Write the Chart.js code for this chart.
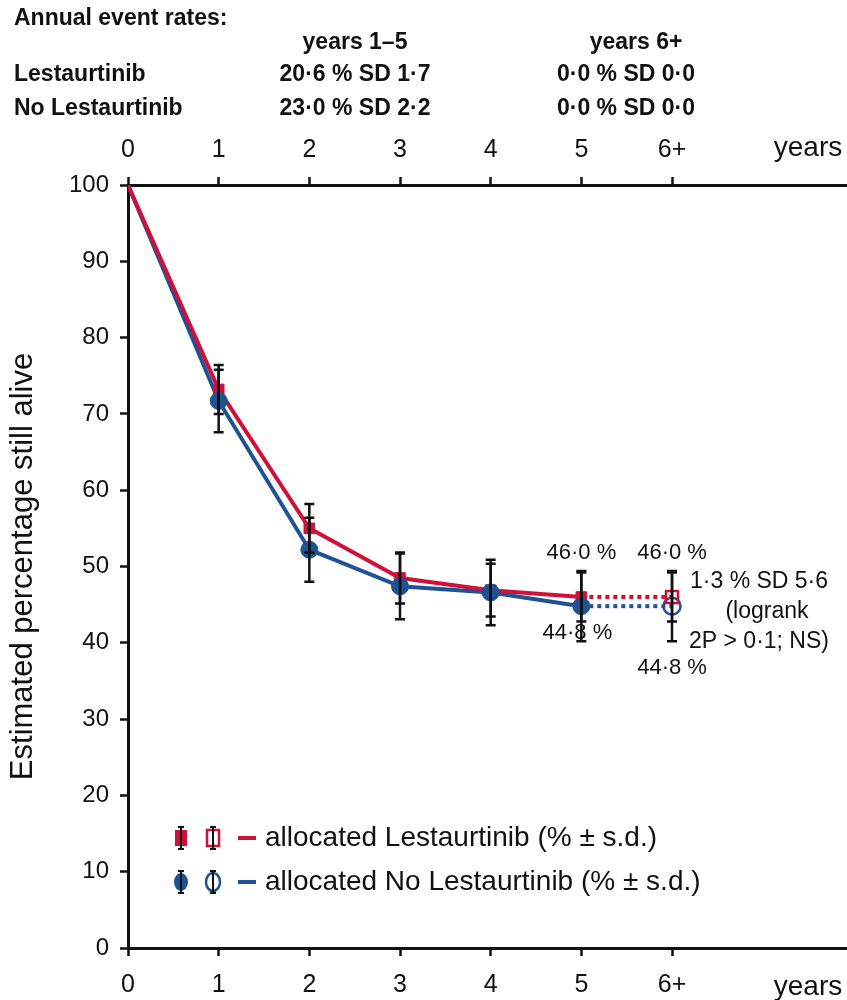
<!DOCTYPE html>
<html>
<head>
<meta charset="utf-8">
<title>Estimated percentage still alive</title>
<script src="https://cdn.jsdelivr.net/npm/chart.js@4.4.1/dist/chart.umd.min.js"></script>
<style>
  html, body { margin: 0; padding: 0; background: #fff; }
  #wrap { position: relative; width: 847px; height: 1000px; }
</style>
</head>
<body>
<div id="wrap"><canvas id="survChart" width="847" height="1000"></canvas></div>
<script>
// survival data (years 0-5 solid, 6+ dotted)
const years = [0, 1, 2, 3, 4, 5];
const lestaurtinib = [100, 73.2, 55.0, 48.5, 46.9, 46.0];
const noLestaurtinib = [100, 71.7, 52.2, 47.4, 46.6, 44.8];
const lestSD = [0, 3.2, 3.2, 3.35, 3.45, 3.2];
const noLestSD = [0, 4.1, 4.2, 4.3, 4.3, 4.6];

const laterYears = [5, 6];
const lestLater = [46.0, 46.0];
const noLestLater = [44.8, 44.8];
const lestLaterSD = [3.2, 3.2];
const noLestLaterSD = [4.6, 4.6];

const xTickValues = [0, 1, 2, 3, 4, 5, 6, 7.5];
const xTickLabels = ['0', '1', '2', '3', '4', '5', '6+', 'years'];

const headerTitle = 'Annual event rates:';
const headerCols = ['years 1\u20135', 'years 6+'];
const headerRows = [
  ['Lestaurtinib', '20\u00b76 % SD 1\u00b77', '0\u00b70 % SD 0\u00b70'],
  ['No Lestaurtinib', '23\u00b70 % SD 2\u00b72', '0\u00b70 % SD 0\u00b70']
];
const pctLabels = { lest: '46\u00b70 %', noLest: '44\u00b78 %' };
const statLines = ['1\u00b73 % SD 5\u00b76', '(logrank', '2P > 0\u00b71; NS)'];
const legendLabels = ['allocated Lestaurtinib (% \u00b1 s.d.)', 'allocated No Lestaurtinib (% \u00b1 s.d.)'];

const RED = '#cf1139';
const BLUE = '#1e5292';
const INK = '#111';
const FONT = '"Liberation Sans", Arial, Helvetica, sans-serif';

const pts = (xs, ys) => xs.map((x, i) => ({ x: x, y: ys[i] }));

function drawBar(ctx, x, yTop, yBot, cap) {
  cap = cap || 5;
  ctx.beginPath();
  ctx.moveTo(x, yTop); ctx.lineTo(x, yBot);
  ctx.moveTo(x - cap, yTop); ctx.lineTo(x + cap, yTop);
  ctx.moveTo(x - cap, yBot); ctx.lineTo(x + cap, yBot);
  ctx.stroke();
}

const extras = {
  id: 'extras',
  afterDatasetsDraw(chart) {
    const ctx = chart.ctx;
    const xs = chart.scales.x, ys = chart.scales.y;
    ctx.save();
    ctx.strokeStyle = INK;
    ctx.lineWidth = 2.5;
    // error bars
    [[lestaurtinib, lestSD], [noLestaurtinib, noLestSD]].forEach(([vals, sd]) => {
      years.forEach((yr, i) => {
        if (!sd[i]) return;
        drawBar(ctx, xs.getPixelForValue(yr), ys.getPixelForValue(vals[i] + sd[i]), ys.getPixelForValue(vals[i] - sd[i]));
      });
    });
    [[lestLater, lestLaterSD], [noLestLater, noLestLaterSD]].forEach(([vals, sd]) => {
      const i = 1;
      drawBar(ctx, xs.getPixelForValue(laterYears[i]), ys.getPixelForValue(vals[i] + sd[i]), ys.getPixelForValue(vals[i] - sd[i]));
    });
    ctx.restore();
  },
  afterDraw(chart) {
    const ctx = chart.ctx;
    const xs = chart.scales.x, ys = chart.scales.y;
    ctx.save();
    ctx.fillStyle = INK;
    ctx.textBaseline = 'middle';

    // header table
    ctx.font = 'bold 23px ' + FONT;
    ctx.textAlign = 'left';
    ctx.fillText(headerTitle, 14, 19);
    ctx.textAlign = 'center';
    ctx.fillText(headerCols[0], 355, 43);
    ctx.fillText(headerCols[1], 636, 43);
    headerRows.forEach((r, k) => {
      const y = 75 + k * 34;
      ctx.textAlign = 'left';
      ctx.fillText(r[0], 14, y);
      ctx.textAlign = 'center';
      ctx.fillText(r[1], 355, y);
      ctx.fillText(r[2], 626, y);
    });

    // percentages at year 5 and 6+
    ctx.font = '22px ' + FONT;
    const x5 = xs.getPixelForValue(5), x6 = xs.getPixelForValue(6);
    ctx.fillText(pctLabels.lest, x5, ys.getPixelForValue(lestLater[0] + lestLaterSD[0]) - 20);
    ctx.fillText(pctLabels.lest, x6, ys.getPixelForValue(lestLater[1] + lestLaterSD[1]) - 20);
    ctx.fillText(pctLabels.noLest, x5 - 4, ys.getPixelForValue(noLestLater[0]) + 27);
    ctx.fillText(pctLabels.noLest, x6, ys.getPixelForValue(noLestLater[1]) + 62);

    // logrank note
    ctx.font = '23px ' + FONT;
    ctx.textAlign = 'left';
    ctx.fillText(statLines[0], 690, 582);
    ctx.textAlign = 'center';
    ctx.fillText(statLines[1], 767, 612);
    ctx.textAlign = 'left';
    ctx.fillText(statLines[2], 689, 642);

    // legend
    const rows = [{ y: 838, color: RED, shape: 'rect' }, { y: 882, color: BLUE, shape: 'circle' }];
    rows.forEach((r, k) => {
      [181, 213].forEach((lx, j) => {
        ctx.beginPath();
        if (r.shape === 'rect') ctx.rect(lx - 6, r.y - 8, 12, 16);
        else ctx.ellipse(lx, r.y, 7, 9, 0, 0, Math.PI * 2);
        if (j === 0) { ctx.fillStyle = r.color; ctx.fill(); }
        else { ctx.strokeStyle = r.color; ctx.lineWidth = 2.5; ctx.stroke(); }
        ctx.strokeStyle = INK; ctx.lineWidth = 2;
        drawBar(ctx, lx, r.y - 11, r.y + 11, 3);
      });
      ctx.strokeStyle = r.color; ctx.lineWidth = 4;
      ctx.beginPath(); ctx.moveTo(238, r.y); ctx.lineTo(256, r.y); ctx.stroke();
      ctx.fillStyle = INK;
      ctx.font = '28px ' + FONT;
      ctx.textAlign = 'left';
      ctx.fillText(legendLabels[k], 265, r.y);
    });
    ctx.restore();
  }
};

const tickFont = { family: FONT, size: 24 };
const xAxisBase = {
  type: 'linear',
  min: 0,
  max: 7.93,
  afterBuildTicks: s => { s.ticks = xTickValues.map(v => ({ value: v })); },
  ticks: { autoSkip: false, maxRotation: 0, color: INK,
           font: c => ({ family: FONT, size: c.tick && c.tick.value > 6 ? 28 : 25 }),
           callback: (v, i) => xTickLabels[i] },
  grid: { drawOnChartArea: false, tickLength: 8, tickWidth: 2.5,
          tickColor: c => (c.tick && c.tick.value > 6 ? 'rgba(0,0,0,0)' : INK) },
  border: { display: true, color: INK, width: 3 }
};

function fixX(h) {
  return s => { s.height = h; s.paddingLeft = 0; s.paddingRight = 0; };
}

new Chart(document.getElementById('survChart'), {
  type: 'scatter',
  data: {
    datasets: [
      { label: 'No Lestaurtinib markers', data: pts(years, noLestaurtinib), showLine: false, order: 0,
        pointStyle: 'circle', pointRadius: c => (c.dataIndex === 0 ? 0 : 8.5),
        pointBackgroundColor: BLUE, pointBorderColor: BLUE, pointBorderWidth: 1 },
      { label: 'Lestaurtinib markers', data: pts(years, lestaurtinib), showLine: false, order: 1,
        pointStyle: 'rect', pointRadius: c => (c.dataIndex === 0 ? 0 : 7.5),
        pointBackgroundColor: RED, pointBorderColor: RED, pointBorderWidth: 1 },
      { label: 'allocated Lestaurtinib', data: pts(years, lestaurtinib), showLine: true, order: 2,
        borderColor: RED, borderWidth: 4, pointRadius: 0 },
      { label: 'allocated No Lestaurtinib', data: pts(years, noLestaurtinib), showLine: true, order: 3,
        borderColor: BLUE, borderWidth: 4, pointRadius: 0 },
      { label: 'Lestaurtinib 6+', data: pts(laterYears, lestLater), showLine: true, order: 4,
        borderColor: RED, borderWidth: 4, borderDash: [4, 4],
        pointStyle: 'rect', pointRadius: c => (c.dataIndex === 0 ? 0 : 8.5),
        pointBackgroundColor: 'rgba(0,0,0,0)', pointBorderColor: RED, pointBorderWidth: 2.5 },
      { label: 'No Lestaurtinib 6+', data: pts(laterYears, noLestLater), showLine: true, order: 5,
        borderColor: BLUE, borderWidth: 4, borderDash: [4, 4],
        pointStyle: 'circle', pointRadius: c => (c.dataIndex === 0 ? 0 : 8.5),
        pointBackgroundColor: 'rgba(0,0,0,0)', pointBorderColor: BLUE, pointBorderWidth: 2.5 }
    ]
  },
  options: {
    responsive: false,
    animation: false,
    devicePixelRatio: 1,
    layout: { padding: 0, autoPadding: false },
    plugins: { legend: { display: false }, tooltip: { enabled: false } },
    scales: {
      x: Object.assign({}, xAxisBase, { position: 'bottom', afterFit: fixX(52),
        ticks: Object.assign({}, xAxisBase.ticks, { padding: 14 }) }),
      x2: Object.assign({}, xAxisBase, { position: 'top', afterFit: fixX(185),
        ticks: Object.assign({}, xAxisBase.ticks, { padding: 12 }) }),
      y: {
        min: 0,
        max: 100,
        ticks: { stepSize: 10, color: INK, font: tickFont, padding: 11 },
        grid: { drawOnChartArea: false, tickLength: 8, tickWidth: 2.5, tickColor: INK },
        border: { display: true, color: INK, width: 3 },
        title: { display: true, text: 'Estimated percentage still alive', color: INK,
                 font: { family: FONT, size: 31 }, padding: { top: 5, bottom: 0 } },
        afterFit: s => { s.width = 128; s.paddingTop = 0; s.paddingBottom = 0; }
      }
    }
  },
  plugins: [extras]
});
</script>
</body>
</html>
